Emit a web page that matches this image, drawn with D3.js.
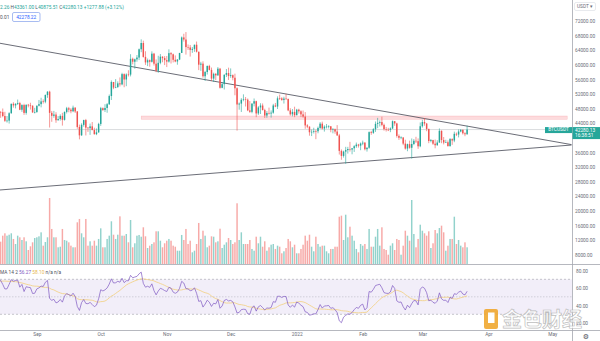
<!DOCTYPE html>
<html><head><meta charset="utf-8">
<script src="https://cdn.jsdelivr.net/npm/d3@7"></script>
<style>
html,body{margin:0;padding:0;background:#fff;}
svg{display:block;font-family:Roboto,"Noto Sans",sans-serif;}
</style></head><body>
<svg id="chart" width="600" height="341"></svg>
<script>
// BTCUSDT daily candles, 2021-08-14 .. 2022-03-22
const startDay = "2021-08-14";
const firstOpen = 47800;

const closes = [
  47065,47047,45991,44686,44741,46762,49339,48905,49321,49546,47707,48992,46852,49078,48897,48807,46991,47100,
  48810,49246,49999,49915,51756,52663,46864,46048,46395,44850,45173,46026,44940,47111,48121,47737,47299,48293,47242,42988,40700,43572,44886,42810,42670,43160,42147,41026,41524,43824,
  48142,47634,48200,49224,51471,55315,53785,53951,54950,54659,57471,56005,57367,57347,61672,60875,61528,62009,64280,66001,62193,60688,61286,60852,63078,60328,58413,60575,62253,61859,61300,
  60911,63219,62897,61395,60937,61470,63273,67525,66947,64882,64774,64122,64380,65519,63606,60058,60344,56891,58052,59707,58622,56247,57541,57138,58960,53726,54721,57274,57776,56950,
  57184,56480,53601,49152,49396,50441,50588,50471,47545,47140,49389,50053,46702,48343,48864,47632,46131,46834,46681,46914,48889,48588,50838,50820,50400,50775,50701,47543,46464,47120,46216,
  47722,47286,46446,45833,43425,43089,41548,41672,41865,41822,42729,43902,42561,43072,43099,43177,42250,42375,41744,40681,36445,35071,36244,36660,36958,36810,37160,37716,38166,37881,38466,
  38691,36896,37311,41574,41383,42380,43840,44118,44338,43565,42407,42244,42197,42586,44575,43961,40538,40031,40123,38431,37075,38286,37296,38332,39214,39105,37709,43193,
  44354,43925,42458,39148,39398,38420,37988,38730,41941,39422,38730,38808,37778,39672,39281,41114,40917,41757,42201,41262,41002,42280.13
];
const highs = [
  48144,47381,48053,47160,46000,47033,49382,49757,49500,50500,49875,49226,49347,49150,49309,49632,48928,48246,
  48888,50392,51000,50558,51900,52780,52920,47381,47400,47040,45988,46460,46880,47250,48500,48500,48150,48843,48372,47347,43639,44000,44978,45200,42966,43919,44350,42787,42590,44141,
  48495,48358,49228,49536,51886,55750,55332,56100,55489,56561,57839,57680,57690,58532,62933,62000,61720,62695,64486,67000,66639,63732,61747,61500,63710,63293,61496,62499,62980,62359,62405,
  62437,64270,63500,63086,62595,61560,63286,67789,68530,69000,65600,65460,64915,65550,66401,63617,60840,60976,58366,59845,60029,59266,57875,57800,59398,59174,55280,57445,58865,59249,
  59041,57375,57600,53859,49699,50891,51936,51200,50797,50099,49485,50797,50189,48700,49500,49436,47995,47360,48300,47537,49328,49576,51375,51868,51156,51280,52088,50704,48139,47900,48548,
  47954,47990,47570,47505,47070,43748,43145,42300,42786,42248,43100,44322,44458,43448,43800,43475,43200,42691,42559,43505,41100,36835,36499,37550,37545,38920,37234,38000,38720,38359,38744,
  39265,38855,37387,41772,41913,42656,44500,45492,44800,45821,43920,43000,42760,42876,44769,44581,44164,40959,40444,40150,39494,38429,39249,39843,39683,40300,39855,44225,
  44950,45400,44102,42527,39695,39473,39550,39362,42594,42039,40236,39486,39310,39947,39887,41718,41478,42325,42400,42300,41544,43361
];
const lows = [
  45971,45500,45660,44376,44200,43927,46622,48285,48084,49029,47600,47138,46315,46360,48370,47762,46858,46700,
  46853,48630,48370,49400,49500,50969,42843,44412,45513,44132,44722,44742,43370,44750,46700,47020,46750,47050,46829,42500,39600,40570,43070,40675,41646,40829,42098,40888,40753,41410,
  43283,47400,47088,46891,49020,50382,53357,53617,53661,54080,54415,53879,54167,56818,56850,60150,58963,60868,61322,63481,62000,60000,59668,59510,60650,59817,58000,57820,60175,60723,59945,
  59405,60624,60382,60677,60721,60050,61322,63273,66382,62822,64100,62278,63303,63576,63400,58575,58373,56474,55600,57353,58486,55610,55317,55837,57000,53500,53610,53256,56666,55875,
  56458,55777,51680,42000,47727,47100,50039,48600,47320,46852,46752,48638,45672,46290,46547,47511,45456,45500,46406,45558,46630,48421,47920,50384,50171,49412,50449,47313,46096,45900,45678,
  46208,46654,45696,45502,42500,42645,40610,40501,41200,39650,41268,42450,42311,41725,42578,42591,41540,41250,41138,40553,35440,34008,34601,32917,35701,36252,35507,36155,37268,37351,36632,
  38000,36586,36250,37026,40843,41116,41645,42666,43117,43187,42000,41748,41870,41570,42427,43310,40073,39450,39639,38000,36800,36350,37036,34322,38014,38600,37000,37450,
  42809,43334,41832,38550,38785,38088,37155,37867,38657,38540,38223,38660,37578,37555,38098,38828,40500,40135,41538,40911,40467,40875.51
];
// daily volume, thousand BTC
const volumes = [
  46,
  41.3,52.4,56.8,52.4,54.2,56.8,46.3,37,52.4,49.4, 44.4,49.4,42,25.9,32.7,40.1,48.1,49.4,51.2,58.6,
  33.9,40.7,49.4,122.1,64.8,49.4,49.4,30.9,32,64.8, 44.4,43.1,40.1,33.9,30.9,30.9,77.1,83.3,56.8,49.4,
  83.3,33.9,42,33.9,43.1,33.9,46.3,66,30.9,30.9, 46.3,52.4,79,54.2,46.3,54.2,88.2,52.4,52.4,55.5,
  40.1,81.4,30.9,38.3,52.4,53.7,50.5,67.9,51.2,29.6, 33.9,37,40.1,60.5,60.5,43.1,30.9,38.3,43.1,46.3,
  43.1,33.9,32,24.6,24.6,53.7,44.4,64.8,37,43.1, 21.6,24.6,37,75.9,46.3,61.6,52.4,30.9,33.9,51.2,
  50.5,40.1,42,65.3,29.6,35.7,40.1,48.1,44.4,37,40.1,
  112.3,44.4,58.6,37,37,37,44.4,27.8,24.6,50.5, 38.3,50.5,32,42,24.6,30.9,35.7,37,27.8,33.9,
  32,19.8,23.5,29.6,46.3,42,30.9,35.7,19.8,19.8, 27.8,35.7,52.4,43.1,54.2,32,23.5,50.5,37,32,
  33.9,33.9,23.5,19.8,27.8,27.8,32,32,87.5,89.4, 44.4,91.2,49.4,69,52.4,43.1,27.8,21.6,37,33.9,
  37,27.8,64.8,32,32,50.5,64.8,33.9,67.9,27.8, 25.9,17.2,33.9,38.3,25.9,46.3,44.4,17.2,33.9,61.6,
  52.4,43.1,118.4,55.5,30.9,46.3,72.7,61.6,56.8,52.4, 60.5,29.6,38.3,62.9,56.8,66.6,70.9,58.6,24.6,33.9,
  46.3,46.3,87.5,37,44.4,33.9,30.9,40.1,30.9
];
// closes 2021-07-01 .. 2021-08-13, used only to seed the RSI
const warmupCloses = [
  33537,33855,34688,35287,33690,34220,33863,32875,33815,33502,34259,33086,32730,32820,31781,31389,31534,31795,30826,29790,
  32144,32288,33587,34283,35426,37208,39457,40020,40016,42206,41461,
  39846,39147,38207,39723,40862,42836,44614,43792,46285,45586,45555,44428,47800
];

// 40000 sits under the last-price tag, so it is left out
const priceTicks = [72000,68000,64000,60000,56000,52000,48000,44000,36000,32000,28000,24000,20000,16000,12000,8000];
const rsiTicks = [80,60,40,20];
const monthTicks = ["2021-09-01","2021-10-01","2021-11-01","2021-12-01","2022-01-01","2022-02-01","2022-03-01","2022-04-01","2022-05-01"];
const monthLabels = ["Sep","Oct","Nov","Dec","2022","Feb","Mar","Apr","May"];

// drawings: two trend lines and a resistance zone
const trendDown = [["2021-08-14", 66000], ["2022-05-10", 38160]];
const trendUp = [["2021-08-14", 25700], ["2022-05-10", 38050]];
const zone = {start: "2021-10-20", end: "2022-05-08", top: 46000, bottom: 45100};
const lastPrice = 42280.13;

// ---------- layout ----------
const W = 600, H = 341, axisX = 572;
const mainBottom = 264, rsiTop = 265, rsiBottom = 330;
const UP = "#26a69a", DOWN = "#ef5350";
const fs = 4.8;
const labelColor = "#6a6d78";

const parse = d3.utcParse("%Y-%m-%d");
const start = parse(startDay);
const dates = closes.map((_, i) => d3.utcDay.offset(start, i));
const opens = closes.map((c, i) => i === 0 ? firstOpen : closes[i - 1]);

const x = d3.scaleUtc().domain([start, parse("2022-01-01")]).range([-1.5, 296.7]);
const y = d3.scaleLinear().domain([8000, 72000]).range([254.7, 21.1]);
const yVol = d3.scaleLinear().domain([0, d3.max(volumes)]).range([mainBottom, 198]);
const yR = d3.scaleLinear().domain([30, 70]).range([314.3, 279.3]);

const svg = d3.select("#chart");
svg.append("rect").attr("width", W).attr("height", H).attr("fill", "#fff");

const defs = svg.append("defs");
defs.append("clipPath").attr("id", "clipMain").append("rect")
  .attr("x", 0).attr("y", 0).attr("width", axisX).attr("height", mainBottom);
defs.append("clipPath").attr("id", "clipRsi").append("rect")
  .attr("x", 0).attr("y", rsiTop).attr("width", axisX).attr("height", rsiBottom - rsiTop);

const main = svg.append("g").attr("clip-path", "url(#clipMain)");
const bw = 1.45;

// volume
main.append("g").selectAll("rect").data(volumes).join("rect")
  .attr("x", (d, i) => x(dates[i]) - bw / 2)
  .attr("width", bw)
  .attr("y", d => yVol(d))
  .attr("height", d => mainBottom - yVol(d))
  .attr("fill", (d, i) => closes[i] >= opens[i] ? UP : DOWN)
  .attr("fill-opacity", 0.5);

// resistance zone
main.append("rect")
  .attr("x", x(parse(zone.start)))
  .attr("width", x(parse(zone.end)) - x(parse(zone.start)))
  .attr("y", y(zone.top))
  .attr("height", y(zone.bottom) - y(zone.top))
  .attr("fill", "rgba(242,54,69,0.18)")
  .attr("stroke", "rgba(242,54,69,0.25)").attr("stroke-width", 0.5);

// last price line
main.append("line")
  .attr("x1", 0).attr("x2", axisX)
  .attr("y1", y(lastPrice)).attr("y2", y(lastPrice))
  .attr("stroke", "#c9cbd0").attr("stroke-width", 0.7);

// trend lines
const tl = d3.line().x(d => x(parse(d[0]))).y(d => y(d[1]));
[trendDown, trendUp].forEach(t => {
  main.append("path").attr("d", tl(t)).attr("fill", "none")
    .attr("stroke", "#50535e").attr("stroke-width", 0.85);
});

// candles
const candles = main.append("g").selectAll("g").data(closes).join("g")
  .attr("stroke", (d, i) => d >= opens[i] ? UP : DOWN)
  .attr("fill", (d, i) => d >= opens[i] ? UP : DOWN);
candles.append("line")
  .attr("x1", (d, i) => x(dates[i])).attr("x2", (d, i) => x(dates[i]))
  .attr("y1", (d, i) => y(highs[i])).attr("y2", (d, i) => y(lows[i]))
  .attr("stroke-width", 0.6);
candles.append("rect")
  .attr("stroke", "none")
  .attr("x", (d, i) => x(dates[i]) - bw / 2).attr("width", bw)
  .attr("y", (d, i) => y(Math.max(d, opens[i])))
  .attr("height", (d, i) => Math.max(0.6, Math.abs(y(d) - y(opens[i]))));

// ---------- RSI 14, SMA 14 ----------
const allCloses = warmupCloses.concat(closes);
function rsiCalc(src, n) {
  const out = new Array(src.length).fill(null);
  let ag = 0, al = 0;
  for (let i = 1; i < src.length; i++) {
    const ch = src[i] - src[i - 1];
    const g = Math.max(ch, 0), l = Math.max(-ch, 0);
    if (i <= n) { ag += g / n; al += l / n; }
    else { ag = (ag * (n - 1) + g) / n; al = (al * (n - 1) + l) / n; }
    if (i >= n) out[i] = al === 0 ? 100 : 100 - 100 / (1 + ag / al);
  }
  return out;
}
const rsiAll = rsiCalc(allCloses, 14);
const maAll = rsiAll.map((v, i) => {
  if (i < 27) return null;
  return d3.mean(rsiAll.slice(i - 13, i + 1));
});
const off = warmupCloses.length;
const rsiPts = dates.map((d, i) => ({date: d, v: rsiAll[off + i], m: maAll[off + i]}));

const rsiG = svg.append("g").attr("clip-path", "url(#clipRsi)");
rsiG.append("rect").attr("x", 0).attr("width", axisX)
  .attr("y", yR(70)).attr("height", yR(30) - yR(70))
  .attr("fill", "rgba(126,87,194,0.1)");
[70, 50, 30].forEach(v => {
  rsiG.append("line").attr("x1", 0).attr("x2", axisX).attr("y1", yR(v)).attr("y2", yR(v))
    .attr("stroke", "#9598a1").attr("stroke-width", 0.6)
    .attr("stroke-dasharray", v === 50 ? "1.5,1.5" : "2,2")
    .attr("stroke-opacity", v === 50 ? 0.6 : 0.9);
});
rsiG.append("path")
  .attr("d", d3.line().defined(d => d.m != null).x(d => x(d.date)).y(d => yR(d.m))(rsiPts))
  .attr("fill", "none").attr("stroke", "#f2cf7e").attr("stroke-width", 0.8);
rsiG.append("path")
  .attr("d", d3.line().x(d => x(d.date)).y(d => yR(d.v))(rsiPts))
  .attr("fill", "none").attr("stroke", "#7e57c2").attr("stroke-width", 0.7);

// ---------- frame lines ----------
svg.append("line").attr("x1", 0).attr("x2", W).attr("y1", mainBottom + 0.5).attr("y2", mainBottom + 0.5)
  .attr("stroke", "#a3a6af").attr("stroke-width", 0.8);
svg.append("line").attr("x1", 0).attr("x2", W).attr("y1", rsiBottom + 0.5).attr("y2", rsiBottom + 0.5)
  .attr("stroke", "#a3a6af").attr("stroke-width", 0.8);
svg.append("line").attr("x1", axisX + 0.5).attr("x2", axisX + 0.5).attr("y1", 0).attr("y2", H)
  .attr("stroke", "#a3a6af").attr("stroke-width", 0.8);

// ---------- axes ----------
const styleAxis = g => {
  g.select(".domain").remove();
  g.selectAll("text").attr("font-size", fs).attr("fill", labelColor).attr("font-family", "Roboto, sans-serif");
};
svg.append("g").attr("transform", `translate(${axisX},0)`)
  .call(d3.axisRight(y).tickValues(priceTicks).tickFormat(d => d.toFixed(2)).tickSize(0).tickPadding(3))
  .call(styleAxis);
svg.append("g").attr("transform", `translate(${axisX},0)`)
  .call(d3.axisRight(yR).tickValues(rsiTicks).tickFormat(d => d.toFixed(2)).tickSize(0).tickPadding(4))
  .call(styleAxis);
svg.append("g").attr("transform", `translate(0,${rsiBottom})`)
  .call(d3.axisBottom(x).tickValues(monthTicks.map(parse)).tickFormat((d, i) => monthLabels[i]).tickSize(0).tickPadding(3))
  .call(styleAxis);

// currency selector
svg.append("rect").attr("x", 574.5).attr("y", 2.5).attr("width", 21).attr("height", 8).attr("rx", 1.5)
  .attr("fill", "#fff").attr("stroke", "#d1d4dc").attr("stroke-width", 0.5);
svg.append("text").attr("x", 577).attr("y", 8.2).attr("font-size", fs).attr("fill", labelColor).text("USDT ▾");

// last price tag
const tagY = y(lastPrice) - 2.5;
svg.append("rect").attr("x", 545).attr("y", tagY).attr("width", 27).attr("height", 6).attr("fill", UP);
svg.append("text").attr("x", 558.5).attr("y", tagY + 4.4).attr("text-anchor", "middle")
  .attr("font-size", fs).attr("fill", "#fff").text("BTCUSDT");
svg.append("rect").attr("x", axisX + 0.5).attr("y", tagY).attr("width", 28).attr("height", 12).attr("fill", UP);
svg.append("text").attr("x", 575).attr("y", tagY + 4.6).attr("font-size", fs).attr("fill", "#fff").text(lastPrice.toFixed(2));
svg.append("text").attr("x", 575).attr("y", tagY + 10.4).attr("font-size", fs).attr("fill", "#fff").text("16:38:51");

// legend: OHLC
const lg = svg.append("text").attr("x", 0).attr("y", 8.5).attr("font-size", fs).attr("fill", UP);
lg.append("tspan").text("2.26 ");
[["H", "43361.00"], ["L", "40875.51"], ["C", "42280.13"]].forEach(([k, v]) => {
  lg.append("tspan").attr("fill", "#50535e").text(k);
  lg.append("tspan").text(v + " ");
});
lg.append("tspan").text("+1277.88 (+3.12%)");
svg.append("text").attr("x", 0).attr("y", 18.5).attr("font-size", fs).attr("fill", "#50535e").text("0.01");
svg.append("rect").attr("x", 12.5).attr("y", 12.5).attr("width", 27.5).attr("height", 9).attr("rx", 1.5)
  .attr("fill", "#fff").attr("stroke", "#6d8fe8").attr("stroke-width", 0.6);
svg.append("text").attr("x", 26.2).attr("y", 18.6).attr("text-anchor", "middle")
  .attr("font-size", fs).attr("fill", "#2962ff").text("42278.22");

// legend: RSI
const rl = svg.append("text").attr("x", 0).attr("y", 273.5).attr("font-size", fs).attr("fill", "#50535e");
rl.append("tspan").text("MA 14 2  ");
rl.append("tspan").attr("fill", "#7e57c2").text("56.27  ");
rl.append("tspan").attr("fill", "#e6b84f").text("58.10  ");
rl.append("tspan").text("n/a  n/a");

// settings gear
svg.append("text").attr("x", 586).attr("y", 338.5).attr("text-anchor", "middle")
  .attr("font-size", 7).attr("fill", "#50535e").attr("font-family", "DejaVu Sans").text("⚙");

// watermark
const wm = svg.append("g").attr("opacity", 0.9);
wm.append("rect").attr("x", 484).attr("y", 309).attr("width", 14).attr("height", 20).attr("rx", 2).attr("fill", "#f0a830");
wm.append("rect").attr("x", 488).attr("y", 312.5).attr("width", 6.5).attr("height", 10.5).attr("fill", "#fff");
wm.append("text").attr("x", 502).attr("y", 326.5).attr("font-size", 20).attr("font-weight", 700)
  .attr("font-family", "'Noto Sans CJK SC'")
  .attr("fill", "rgba(255,255,255,0.85)").attr("stroke", "#b8b8b8").attr("stroke-width", 0.7)
  .text("金色财经");
</script>
</body></html>
